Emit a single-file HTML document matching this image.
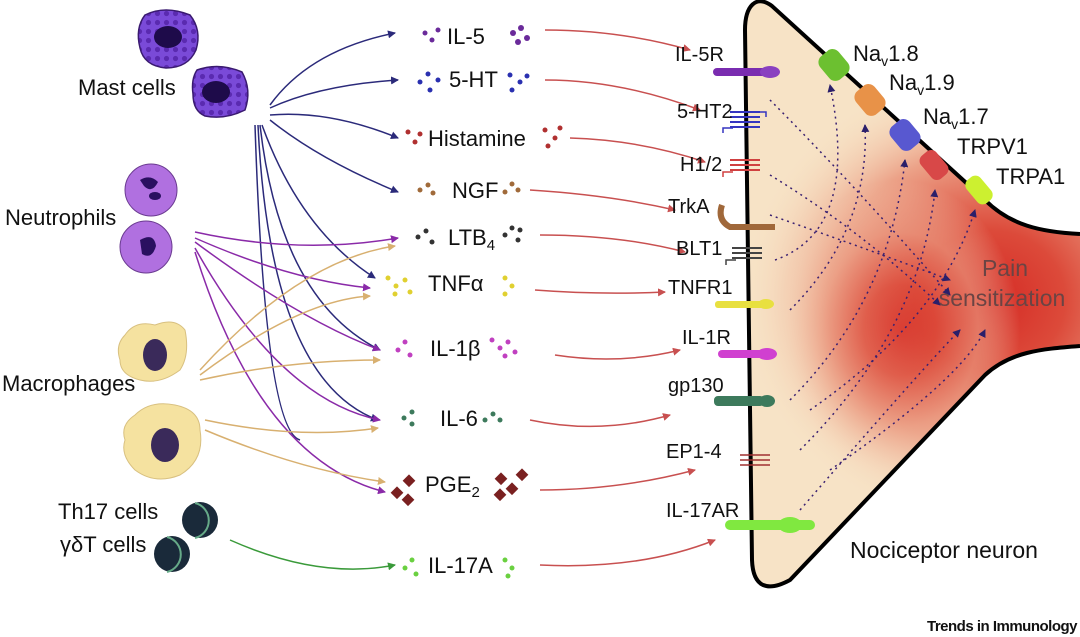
<!DOCTYPE html>
<html><head><meta charset="utf-8"><style>
html,body{margin:0;padding:0;background:#fff;}
svg{display:block;font-family:"Liberation Sans",sans-serif;}
</style></head><body>
<svg width="1080" height="637" viewBox="0 0 1080 637" xmlns="http://www.w3.org/2000/svg">
<defs>
<radialGradient id="red" cx="0.5" cy="0.5" r="0.5">
<stop offset="0" stop-color="#d52a24"/><stop offset="0.3" stop-color="#dc4a3a"/><stop offset="0.65" stop-color="#eca288"/><stop offset="1" stop-color="#f7e3c6" stop-opacity="0"/>
</radialGradient>
<clipPath id="nc"><path d="M1080,234 C1040,232 1010,225 985,200 L772,6 C756,-6 745,6 745,30 L752,560 C753,588 768,592 790,580 L985,375 C1010,352 1040,349 1080,346 Z"/></clipPath>
<pattern id="gran" width="9" height="9" patternUnits="userSpaceOnUse"><rect width="9" height="9" fill="#7a4ad8"/><circle cx="4.5" cy="4.5" r="2.6" fill="#5a2ab0"/></pattern>
<marker id="ab" markerWidth="8" markerHeight="8" refX="7" refY="4" orient="auto" markerUnits="userSpaceOnUse"><path d="M0,0 L8,4 L0,8z" fill="#2b2a7a"/></marker>
<marker id="ap" markerWidth="8" markerHeight="8" refX="7" refY="4" orient="auto" markerUnits="userSpaceOnUse"><path d="M0,0 L8,4 L0,8z" fill="#8a2aa8"/></marker>
<marker id="at" markerWidth="8" markerHeight="8" refX="7" refY="4" orient="auto" markerUnits="userSpaceOnUse"><path d="M0,0 L8,4 L0,8z" fill="#d8b070"/></marker>
<marker id="ag" markerWidth="8" markerHeight="8" refX="7" refY="4" orient="auto" markerUnits="userSpaceOnUse"><path d="M0,0 L8,4 L0,8z" fill="#3a9a3a"/></marker>
<marker id="ar" markerWidth="8" markerHeight="8" refX="7" refY="4" orient="auto" markerUnits="userSpaceOnUse"><path d="M0,0 L8,4 L0,8z" fill="#c85050"/></marker>
<marker id="ad" markerWidth="8" markerHeight="8" refX="7" refY="4" orient="auto" markerUnits="userSpaceOnUse"><path d="M0,0 L8,4 L0,8z" fill="#2b1f6a"/></marker>
</defs>

<!-- neuron -->
<path d="M1080,234 C1040,232 1010,225 985,200 L772,6 C756,-6 745,6 745,30 L752,560 C753,588 768,592 790,580 L985,375 C1010,352 1040,349 1080,346 Z" fill="#f7e3c6"/>
<g clip-path="url(#nc)">
<ellipse cx="990" cy="300" rx="250" ry="230" fill="url(#red)"/>
<ellipse cx="900" cy="330" rx="120" ry="150" fill="url(#red)" opacity="0.6"/>
</g>
<path d="M1080,234 C1040,232 1010,225 985,200 L772,6 C756,-6 745,6 745,30 L752,560 C753,588 768,592 790,580 L985,375 C1010,352 1040,349 1080,346" fill="none" stroke="#000" stroke-width="4"/>

<!-- dotted lines inside -->
<g stroke="#3a2070" stroke-width="1.5" stroke-dasharray="2,4" fill="none">
<path d="M770,100 Q850,180 950,295" marker-end="url(#ad)"/>
<path d="M770,175 Q860,230 940,305" marker-end="url(#ad)"/>
<path d="M770,215 Q870,250 950,280" marker-end="url(#ad)"/>
<path d="M775,260 Q860,230 830,85" marker-end="url(#ad)"/>
<path d="M790,310 Q870,230 865,125" marker-end="url(#ad)"/>
<path d="M790,400 Q890,300 905,160" marker-end="url(#ad)"/>
<path d="M800,450 Q920,330 935,190" marker-end="url(#ad)"/>
<path d="M800,510 Q930,360 960,330" marker-end="url(#ad)"/>
<path d="M810,410 Q940,320 975,210" marker-end="url(#ad)"/>
<path d="M830,470 Q960,380 985,330" marker-end="url(#ad)"/>
</g>

<!-- channels -->
<g>
<rect x="822" y="50" width="24" height="30" rx="8" fill="#6cc030" transform="rotate(-40 834 65)"/>
<rect x="858" y="85" width="24" height="30" rx="8" fill="#e89248" transform="rotate(-40 870 100)"/>
<rect x="893" y="120" width="24" height="30" rx="8" fill="#5858d0" transform="rotate(-40 905 135)"/>
<rect x="924" y="150" width="20" height="30" rx="7" fill="#d84848" transform="rotate(-40 934 165)"/>
<rect x="970" y="175" width="18" height="30" rx="7" fill="#ccf030" transform="rotate(-40 979 190)"/>
</g>

<!-- receptors -->
<g>
<rect x="713" y="68" width="55" height="8" rx="4" fill="#7a2cb0"/><ellipse cx="770" cy="72" rx="10" ry="6" fill="#8a40c0"/>
<path d="M730,112 h30 M730,117 h30 M730,122 h30 M730,127 h30" stroke="#3535c0" stroke-width="2"/>
<path d="M723,133 v-5 h10 M760,112 h6 v5" stroke="#3535c0" stroke-width="1.5" fill="none"/>
<path d="M730,160 h30 M730,165 h30 M730,170 h30" stroke="#d04040" stroke-width="2"/>
<path d="M723,177 v-5 h10" stroke="#d04040" stroke-width="1.5" fill="none"/>
<path d="M722,205 q-5,15 8,22 h45" stroke="#a0683a" stroke-width="6" fill="none"/>
<path d="M732,248 h30 M732,253 h30 M732,258 h30" stroke="#444" stroke-width="2"/>
<path d="M726,265 v-5 h10" stroke="#444" stroke-width="1.5" fill="none"/>
<rect x="715" y="301" width="50" height="7" rx="3" fill="#e8e040"/><ellipse cx="766" cy="304" rx="8" ry="5" fill="#e8e040"/>
<rect x="718" y="350" width="45" height="8" rx="4" fill="#d040d0"/><ellipse cx="767" cy="354" rx="10" ry="6" fill="#d040d0"/>
<rect x="714" y="396" width="50" height="10" rx="4" fill="#3d7a5c"/><ellipse cx="767" cy="401" rx="8" ry="6" fill="#3d7a5c"/>
<path d="M740,455 h30 M740,460 h30 M740,465 h30" stroke="#a03030" stroke-width="1.5"/>
<rect x="725" y="520" width="90" height="10" rx="5" fill="#80e840"/><ellipse cx="790" cy="525" rx="12" ry="8" fill="#80e840"/>
</g>

<!-- cells -->
<g>
<path d="M145,15 q20,-10 45,0 q12,15 6,35 q-8,18 -30,18 q-22,-2 -26,-20 q-5,-20 5,-33z" fill="url(#gran)" stroke="#3a1a70" stroke-width="1.5"/>
<ellipse cx="168" cy="37" rx="14" ry="11" fill="#1e0b4a"/>
<path d="M197,70 q22,-8 45,2 q10,18 3,38 q-20,10 -40,6 q-12,-5 -12,-22 q-2,-15 4,-24z" fill="url(#gran)" stroke="#3a1a70" stroke-width="1.5"/>
<ellipse cx="216" cy="92" rx="14" ry="11" fill="#1e0b4a"/>
<circle cx="151" cy="190" r="26" fill="#b070e0" stroke="#6a3a90"/>
<path d="M140,180 q10,-6 18,2 q-6,12 -14,4z" fill="#2a1060"/><ellipse cx="155" cy="196" rx="6" ry="4" fill="#2a1060"/>
<circle cx="146" cy="247" r="26" fill="#b070e0" stroke="#6a3a90"/>
<path d="M140,240 q14,-8 16,6 q-4,14 -14,8z" fill="#2a1060"/>
<path d="M125,335 q10,-15 30,-10 q20,-8 30,5 q5,25 -5,40 q-20,15 -40,10 q-20,-5 -20,-20 q-5,-15 5,-25z" fill="#f5e2a0" stroke="#d8c080"/>
<ellipse cx="155" cy="355" rx="12" ry="16" fill="#3a2a5a"/>
<path d="M135,415 q15,-15 40,-10 q25,5 25,25 q5,30 -20,45 q-25,10 -45,-5 q-15,-15 -10,-30 q-5,-15 10,-25z" fill="#f5e2a0" stroke="#d8c080"/>
<ellipse cx="165" cy="445" rx="14" ry="17" fill="#3a2a5a"/>
<circle cx="200" cy="520" r="18" fill="#1a2a3a"/>
<circle cx="172" cy="554" r="18" fill="#1a2a3a"/>
<path d="M195,503 a18,18 0 0,1 0,35" stroke="#6a8" stroke-width="2" fill="none"/>
<path d="M167,537 a18,18 0 0,1 0,35" stroke="#6a8" stroke-width="2" fill="none"/>
</g>

<!-- arrows from cells -->
<g fill="none" stroke-width="1.5">
<g stroke="#2b2a7a">
<path d="M270,105 Q310,50 395,33" marker-end="url(#ab)"/>
<path d="M270,108 Q320,85 398,80" marker-end="url(#ab)"/>
<path d="M270,115 Q330,110 398,138" marker-end="url(#ab)"/>
<path d="M270,120 Q320,160 398,192" marker-end="url(#ab)"/>
<path d="M262,125 Q300,230 375,278" marker-end="url(#ab)"/>
<path d="M260,125 Q280,300 380,350" marker-end="url(#ab)"/>
<path d="M258,125 Q270,380 378,420" marker-end="url(#ab)"/>
<path d="M255,125 Q265,430 300,440"/>
</g>
<g stroke="#8a2aa8">
<path d="M195,232 Q300,255 398,238" marker-end="url(#ap)"/>
<path d="M195,238 Q290,280 370,288" marker-end="url(#ap)"/>
<path d="M195,242 Q300,320 380,350" marker-end="url(#ap)"/>
<path d="M195,248 Q280,400 380,420" marker-end="url(#ap)"/>
<path d="M195,252 Q260,460 385,492" marker-end="url(#ap)"/>
</g>
<g stroke="#d8b070">
<path d="M200,370 Q300,260 395,246" marker-end="url(#at)"/>
<path d="M200,375 Q300,300 370,296" marker-end="url(#at)"/>
<path d="M200,380 Q290,360 380,360" marker-end="url(#at)"/>
<path d="M205,420 Q300,440 378,428" marker-end="url(#at)"/>
<path d="M205,430 Q300,470 385,482" marker-end="url(#at)"/>
</g>
<path d="M230,540 Q320,580 395,565" stroke="#3a9a3a" marker-end="url(#ag)"/>
<g stroke="#c85050">
<path d="M545,30 Q620,30 690,50" marker-end="url(#ar)"/>
<path d="M545,80 Q620,80 700,110" marker-end="url(#ar)"/>
<path d="M570,138 Q640,140 705,162" marker-end="url(#ar)"/>
<path d="M530,190 Q610,195 675,210" marker-end="url(#ar)"/>
<path d="M540,235 Q620,235 685,252" marker-end="url(#ar)"/>
<path d="M535,290 Q600,295 665,292" marker-end="url(#ar)"/>
<path d="M555,355 Q620,365 680,350" marker-end="url(#ar)"/>
<path d="M530,420 Q600,435 670,415" marker-end="url(#ar)"/>
<path d="M540,490 Q620,490 695,470" marker-end="url(#ar)"/>
<path d="M540,565 Q640,570 715,540" marker-end="url(#ar)"/>
</g>
</g>

<!-- cytokine dots -->
<g>
<g fill="#6a2a9a"><circle cx="425" cy="33" r="2.5"/><circle cx="432" cy="40" r="2.5"/><circle cx="438" cy="30" r="2.5"/><circle cx="513" cy="33" r="3"/><circle cx="521" cy="28" r="3"/><circle cx="527" cy="38" r="3"/><circle cx="518" cy="42" r="3"/></g>
<g fill="#2a30b0"><circle cx="420" cy="82" r="2.5"/><circle cx="428" cy="74" r="2.5"/><circle cx="438" cy="80" r="2.5"/><circle cx="430" cy="90" r="2.5"/><circle cx="510" cy="75" r="2.5"/><circle cx="520" cy="82" r="2.5"/><circle cx="512" cy="90" r="2.5"/><circle cx="527" cy="76" r="2.5"/></g>
<g fill="#b03030"><circle cx="408" cy="132" r="2.5"/><circle cx="415" cy="142" r="2.5"/><circle cx="420" cy="134" r="2.5"/><circle cx="545" cy="130" r="2.5"/><circle cx="555" cy="138" r="2.5"/><circle cx="548" cy="146" r="2.5"/><circle cx="560" cy="128" r="2.5"/></g>
<g fill="#a06a3a"><circle cx="420" cy="190" r="2.5"/><circle cx="428" cy="185" r="2.5"/><circle cx="433" cy="193" r="2.5"/><circle cx="505" cy="192" r="2.5"/><circle cx="512" cy="184" r="2.5"/><circle cx="518" cy="190" r="2.5"/></g>
<g fill="#333"><circle cx="418" cy="237" r="2.5"/><circle cx="426" cy="231" r="2.5"/><circle cx="432" cy="242" r="2.5"/><circle cx="505" cy="235" r="2.5"/><circle cx="512" cy="228" r="2.5"/><circle cx="518" cy="240" r="2.5"/><circle cx="520" cy="230" r="2.5"/></g>
<g fill="#e0d030"><circle cx="388" cy="278" r="2.5"/><circle cx="396" cy="286" r="2.5"/><circle cx="405" cy="280" r="2.5"/><circle cx="395" cy="294" r="2.5"/><circle cx="410" cy="292" r="2.5"/><circle cx="505" cy="278" r="2.5"/><circle cx="512" cy="286" r="2.5"/><circle cx="505" cy="294" r="2.5"/></g>
<g fill="#c040c0"><circle cx="398" cy="350" r="2.5"/><circle cx="405" cy="342" r="2.5"/><circle cx="410" cy="355" r="2.5"/><circle cx="492" cy="340" r="2.5"/><circle cx="500" cy="348" r="2.5"/><circle cx="508" cy="342" r="2.5"/><circle cx="515" cy="352" r="2.5"/><circle cx="505" cy="356" r="2.5"/></g>
<g fill="#3d7a5c"><circle cx="404" cy="418" r="2.5"/><circle cx="412" cy="412" r="2.5"/><circle cx="412" cy="424" r="2.5"/><circle cx="485" cy="420" r="2.5"/><circle cx="493" cy="414" r="2.5"/><circle cx="500" cy="420" r="2.5"/></g>
<g fill="#7a2020"><rect x="393" y="488" width="9" height="9" transform="rotate(45 397 492)"/><rect x="405" y="476" width="9" height="9" transform="rotate(45 409 480)"/><rect x="404" y="495" width="9" height="9" transform="rotate(45 408 499)"/><rect x="497" y="474" width="9" height="9" transform="rotate(45 501 478)"/><rect x="508" y="484" width="9" height="9" transform="rotate(45 512 488)"/><rect x="518" y="470" width="9" height="9" transform="rotate(45 522 474)"/><rect x="496" y="490" width="9" height="9" transform="rotate(45 500 494)"/></g>
<g fill="#6ad040"><circle cx="405" cy="568" r="2.5"/><circle cx="412" cy="560" r="2.5"/><circle cx="416" cy="574" r="2.5"/><circle cx="505" cy="560" r="2.5"/><circle cx="512" cy="568" r="2.5"/><circle cx="508" cy="576" r="2.5"/></g>
</g>

<!-- text -->
<g font-size="22" fill="#111">
<text x="78" y="95">Mast cells</text>
<text x="5" y="225">Neutrophils</text>
<text x="2" y="391">Macrophages</text>
<text x="58" y="519">Th17 cells</text>
<text x="60" y="552">γδT cells</text>
<text x="447" y="44">IL-5</text>
<text x="449" y="87">5-HT</text>
<text x="428" y="146">Histamine</text>
<text x="452" y="198">NGF</text>
<text x="448" y="245">LTB<tspan font-size="15" dy="5">4</tspan></text>
<text x="428" y="291">TNFα</text>
<text x="430" y="356">IL-1β</text>
<text x="440" y="426">IL-6</text>
<text x="425" y="492">PGE<tspan font-size="15" dy="5">2</tspan></text>
<text x="428" y="573">IL-17A</text>
</g>
<g font-size="20" fill="#111">
<text x="675" y="61">IL-5R</text>
<text x="677" y="118">5-HT2</text>
<text x="680" y="171">H1/2</text>
<text x="668" y="213">TrkA</text>
<text x="676" y="255">BLT1</text>
<text x="668" y="294">TNFR1</text>
<text x="682" y="344">IL-1R</text>
<text x="668" y="392">gp130</text>
<text x="666" y="458">EP1-4</text>
<text x="666" y="517">IL-17AR</text>
</g>
<g font-size="22" fill="#111">
<text x="853" y="61">Na<tspan font-size="14" dy="5">v</tspan><tspan dy="-5">1.8</tspan></text>
<text x="889" y="90">Na<tspan font-size="14" dy="5">v</tspan><tspan dy="-5">1.9</tspan></text>
<text x="923" y="124">Na<tspan font-size="14" dy="5">v</tspan><tspan dy="-5">1.7</tspan></text>
<text x="957" y="154">TRPV1</text>
<text x="996" y="184">TRPA1</text>
<text x="850" y="558" font-size="23">Nociceptor neuron</text>
</g>
<g font-size="23" fill="#6a4444" text-anchor="middle">
<text x="1005" y="276">Pain</text>
<text x="1002" y="306">sensitization</text>
</g>
<text x="1077" y="631" font-size="15" font-weight="bold" fill="#111" text-anchor="end" letter-spacing="-0.5">Trends in Immunology</text>
</svg>
</body></html>
